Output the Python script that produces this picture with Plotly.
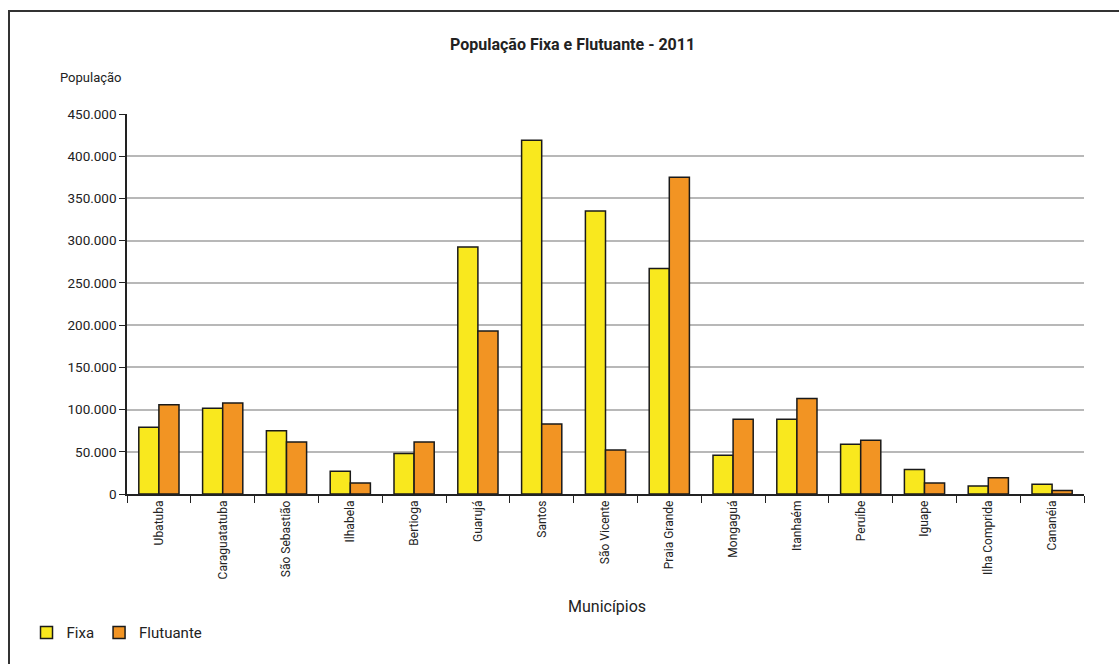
import plotly.graph_objects as go

municipios = ["Ubatuba", "Caraguatatuba", "São Sebastião", "Ilhabela", "Bertioga", "Guarujá",
              "Santos", "São Vicente", "Praia Grande", "Mongaguá", "Itanhaém", "Peruíbe",
              "Iguape", "Ilha Comprida", "Cananéia"]
fixa = [79000, 101500, 75000, 27000, 48000, 292500, 419000, 335000, 267000, 46000, 88500, 59000, 29000, 9500, 11500]
flutuante = [105800, 107800, 61600, 13000, 61600, 193000, 83000, 52000, 375000, 88400, 113000, 63600, 13000, 19300, 4000]

FONT = "Roboto, Arial"
fig = go.Figure()
fig.add_trace(go.Bar(name="Fixa", x=municipios, y=fixa, marker=dict(color="#F9E81E", line=dict(color="#1a1a1a", width=1.5))))
fig.add_trace(go.Bar(name="Flutuante", x=municipios, y=flutuante, marker=dict(color="#F29423", line=dict(color="#1a1a1a", width=1.5))))

fig.update_layout(
    width=1119, height=664,
    margin=dict(l=127, r=35, t=114, b=170),
    paper_bgcolor="white", plot_bgcolor="white",
    barmode="group", bargap=0.37, bargroupgap=0,
    separators=",.",
    font=dict(family=FONT, size=12, color="#222"),
    showlegend=True,
    legend=dict(orientation="h", x=-0.105, y=-0.365, xanchor="left", yanchor="middle",
                font=dict(size=15, family=FONT), itemwidth=30, traceorder="normal"),
    xaxis=dict(showline=True, linecolor="#222", linewidth=1.5, ticks="outside", ticklen=7,
               tickcolor="#222", tickson="boundaries", tickangle=-90,
               tickfont=dict(size=12, family=FONT), showgrid=False),
    yaxis=dict(range=[0, 450000], tickvals=list(range(0, 450001, 50000)), tickformat=",d",
               showline=True, linecolor="#222", linewidth=1.5, ticks="outside", ticklen=6,
               tickcolor="#222", showgrid=True, gridcolor="#b8b8b8", gridwidth=1.5,
               tickfont=dict(size=13.5, family=FONT), zeroline=False),
    annotations=[
        dict(text="<b>População Fixa e Flutuante - 2011</b>", xref="paper", yref="paper",
             x=0.465, y=1.182, yanchor="middle", showarrow=False, font=dict(size=16, family=FONT)),
        dict(text="População", xref="paper", yref="paper", x=-0.072, y=1.095,
             xanchor="left", yanchor="middle", showarrow=False, font=dict(size=13, family=FONT)),
        dict(text="Municípios", xref="paper", yref="paper", x=0.502, y=-0.297,
             yanchor="middle", showarrow=False, font=dict(size=16, family=FONT)),
    ],
    shapes=[dict(type="rect", xref="paper", yref="paper", x0=-0.1233, x1=1.05, y0=-0.47, y1=1.271,
                 line=dict(color="#333", width=2), layer="below")],
)
fig.write_html("out.html")
